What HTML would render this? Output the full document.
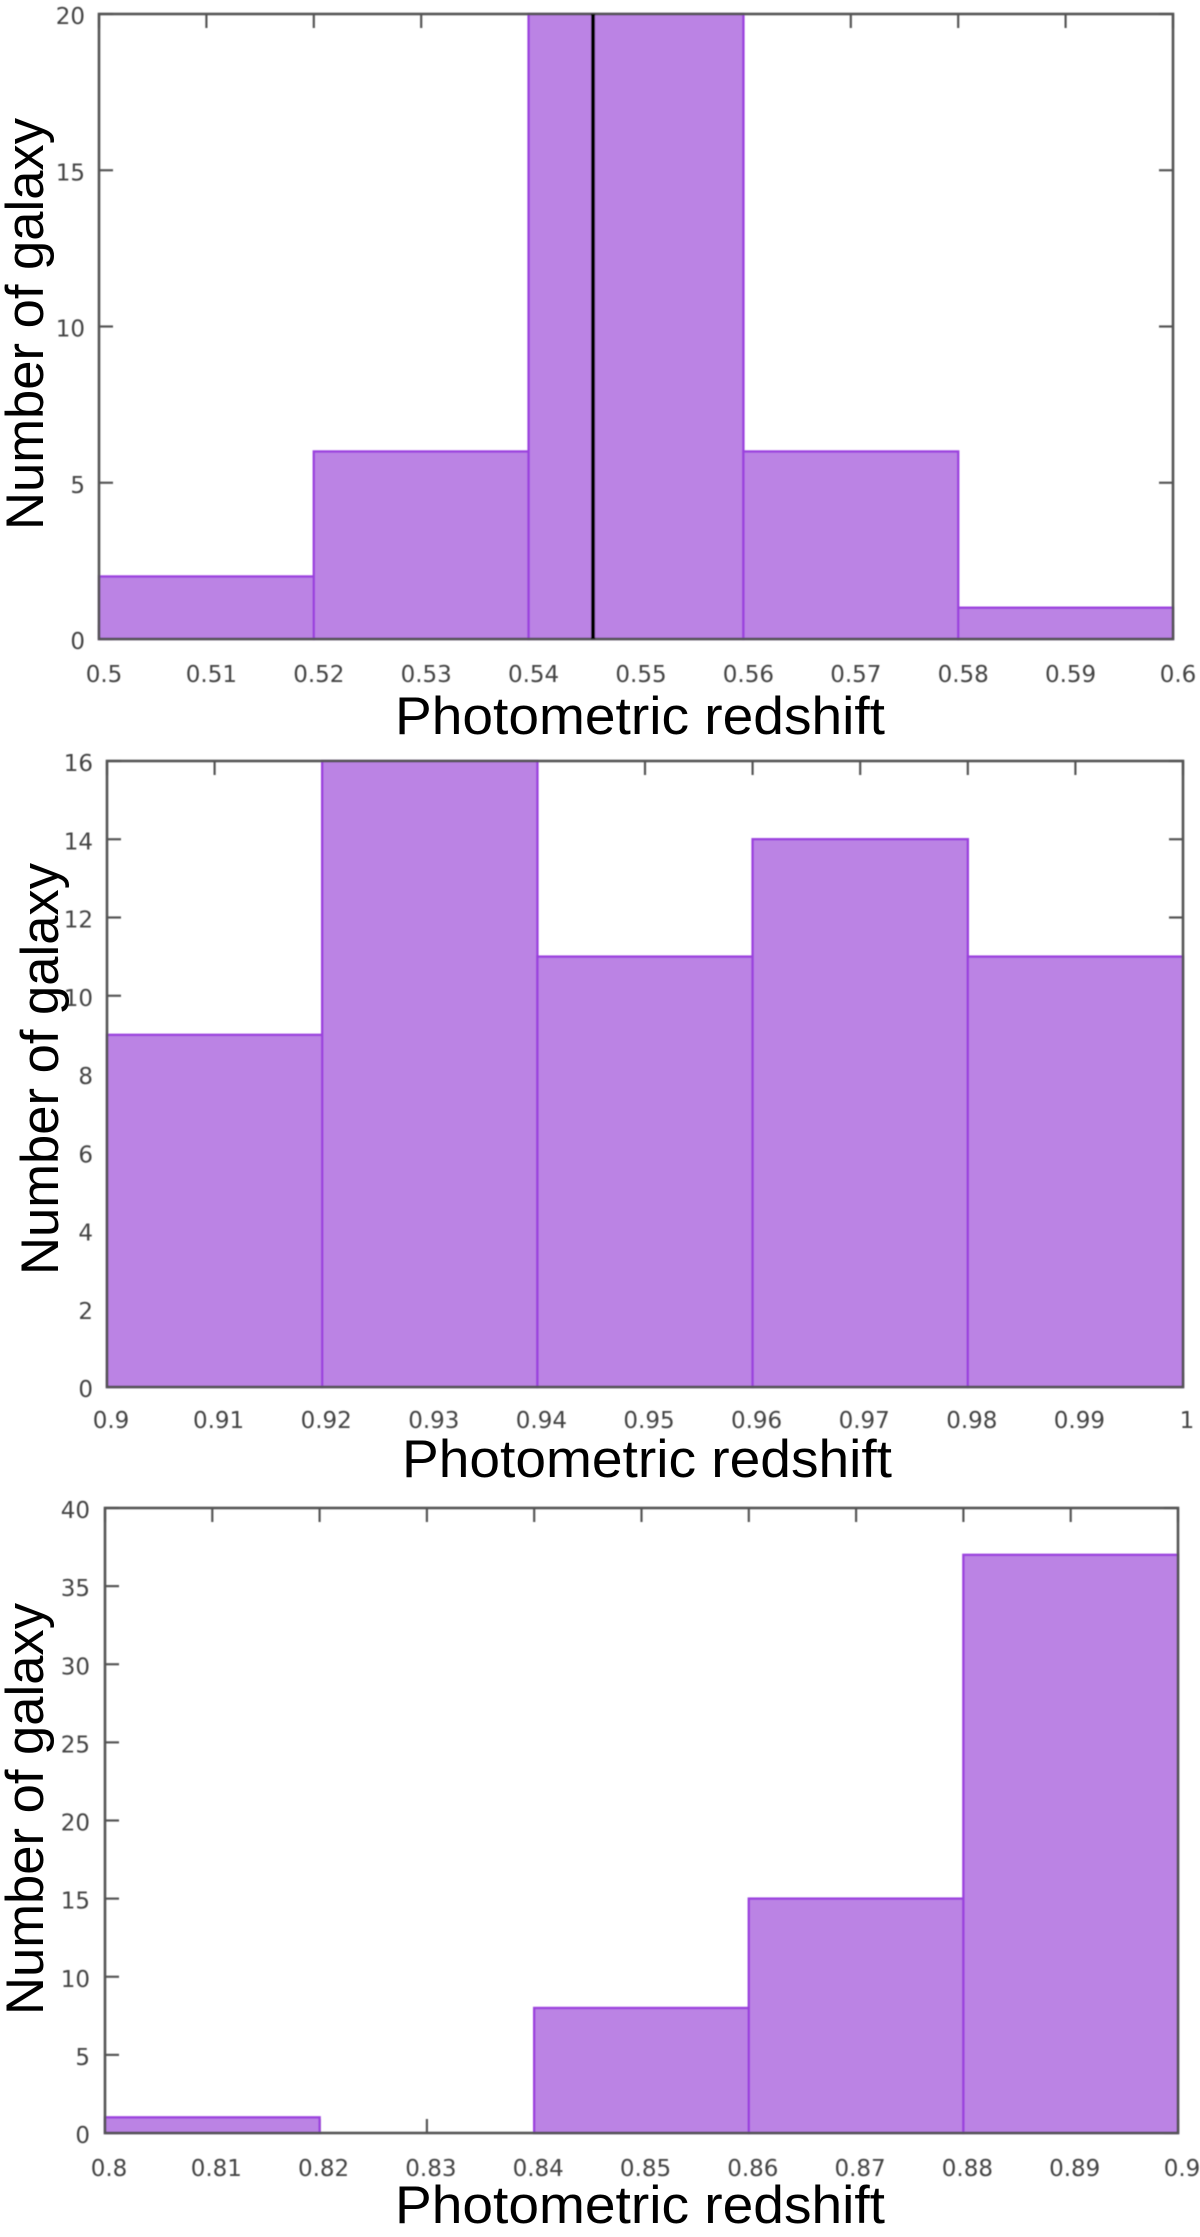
<!DOCTYPE html>
<html lang="en">
<head>
<meta charset="utf-8">
<title>Photometric redshift histograms</title>
<style>
html,body{margin:0;padding:0;background:#fff;}
svg{display:block;}
.tick-label{font-family:"DejaVu Sans","Liberation Sans",sans-serif;font-size:23px;fill:#444;}
.axis-title{font-family:"Liberation Sans",sans-serif;font-size:53px;fill:#000;}
</style>
</head>
<body>
<svg id="figure" xmlns="http://www.w3.org/2000/svg" width="1200" height="2237" viewBox="0 0 1200 2237">
  <defs>
    <filter id="soft" x="-5%" y="-5%" width="110%" height="110%"><feGaussianBlur stdDeviation="0.55"/></filter>
    <filter id="softer" x="-5%" y="-5%" width="110%" height="110%"><feGaussianBlur stdDeviation="0.35"/></filter>
  </defs>
  <rect width="1200" height="2237" fill="#fff"/>

  <g id="panel-1"></g>
  <text class="axis-title" x="395" y="734" textLength="490" lengthAdjust="spacingAndGlyphs" filter="url(#softer)">Photometric redshift</text>
  <text class="axis-title" transform="translate(43,530) rotate(-90)" textLength="412" lengthAdjust="spacingAndGlyphs" filter="url(#softer)">Number of galaxy</text>

  <g id="panel-2"></g>
  <text class="axis-title" x="402" y="1477" textLength="490" lengthAdjust="spacingAndGlyphs" filter="url(#softer)">Photometric redshift</text>
  <text class="axis-title" transform="translate(58,1275) rotate(-90)" textLength="412" lengthAdjust="spacingAndGlyphs" filter="url(#softer)">Number of galaxy</text>

  <g id="panel-3"></g>
  <text class="axis-title" x="395" y="2223" textLength="490" lengthAdjust="spacingAndGlyphs" filter="url(#softer)">Photometric redshift</text>
  <text class="axis-title" transform="translate(43,2015) rotate(-90)" textLength="412" lengthAdjust="spacingAndGlyphs" filter="url(#softer)">Number of galaxy</text>
</svg>

<script>
// Panel 1 data
const binStarts1 = [0.50, 0.52, 0.54, 0.56, 0.58];
const counts1 = [2, 6, 20, 6, 1];
const xTicks1 = ['0.5', '0.51', '0.52', '0.53', '0.54', '0.55', '0.56', '0.57', '0.58', '0.59', '0.6'];
const yTicks1 = ['0', '5', '10', '15', '20'];
const markerValues1 = [0.546];

// Panel 2 data
const binStarts2 = [0.90, 0.92, 0.94, 0.96, 0.98];
const counts2 = [9, 16, 11, 14, 11];
const xTicks2 = ['0.9', '0.91', '0.92', '0.93', '0.94', '0.95', '0.96', '0.97', '0.98', '0.99', '1'];
const yTicks2 = ['0', '2', '4', '6', '8', '10', '12', '14', '16'];
const markerValues2 = [];

// Panel 3 data
const binStarts3 = [0.80, 0.82, 0.84, 0.86, 0.88];
const counts3 = [1, 0, 8, 15, 37];
const xTicks3 = ['0.8', '0.81', '0.82', '0.83', '0.84', '0.85', '0.86', '0.87', '0.88', '0.89', '0.9'];
const yTicks3 = ['0', '5', '10', '15', '20', '25', '30', '35', '40'];
const markerValues3 = [];

const binWidth = 0.02;
const SVG_NS = 'http://www.w3.org/2000/svg';

function makeSvg(tag, attrs, parent) {
  const el = document.createElementNS(SVG_NS, tag);
  for (const key in attrs) el.setAttribute(key, attrs[key]);
  parent.appendChild(el);
  return el;
}

function drawPanel(cfg) {
  const root = document.getElementById(cfg.id);
  const xMin = parseFloat(cfg.xTicks[0]);
  const xMax = parseFloat(cfg.xTicks[cfg.xTicks.length - 1]);
  const yMin = parseFloat(cfg.yTicks[0]);
  const yMax = parseFloat(cfg.yTicks[cfg.yTicks.length - 1]);
  const xScale = v => cfg.left + (v - xMin) / (xMax - xMin) * (cfg.right - cfg.left);
  const yScale = v => cfg.bottom - (v - yMin) / (yMax - yMin) * (cfg.bottom - cfg.top);
  const tickLen = 14;
  const axisColor = '#555';

  const soft = makeSvg('g', { filter: 'url(#soft)' }, root);
  
  

  // tick marks sit under the bars
  cfg.xTicks.forEach(label => {
    const x = xScale(parseFloat(label));
    const bottomTick = makeSvg('line', { x1: x, x2: x, y1: cfg.bottom, y2: cfg.bottom - tickLen, stroke: axisColor, 'stroke-width': 2.2 }, soft);
    
    
    const topTick = makeSvg('line', { x1: x, x2: x, y1: cfg.top, y2: cfg.top + tickLen, stroke: axisColor, 'stroke-width': 2.2 }, soft);
    
    
    const text = makeSvg('text', { x: x + cfg.xLabelShift, y: cfg.xLabelY, 'text-anchor': 'middle', class: 'tick-label' }, soft);
    text.textContent = label;
    
    
  });

  cfg.yTicks.forEach(label => {
    const y = yScale(parseFloat(label));
    const leftTick = makeSvg('line', { x1: cfg.left, x2: cfg.left + tickLen, y1: y, y2: y, stroke: axisColor, 'stroke-width': 2.2 }, soft);
    
    
    const rightTick = makeSvg('line', { x1: cfg.right, x2: cfg.right - tickLen, y1: y, y2: y, stroke: axisColor, 'stroke-width': 2.2 }, soft);
    
    
    const text = makeSvg('text', { x: cfg.yLabelX, y: y + 10, 'text-anchor': 'end', class: 'tick-label' }, soft);
    text.textContent = label;
    
    
  });

  // histogram bars
  cfg.binStarts.forEach((start, i) => {
    const x0 = xScale(start);
    const x1 = xScale(start + binWidth);
    const y = yScale(cfg.counts[i]);
    const bar = makeSvg('rect', {
      x: x0, y: y, width: x1 - x0, height: cfg.bottom - y,
      fill: '#bb83e4', stroke: '#9b42de', 'stroke-width': 2.4
    }, soft);
    
    
  });

  // frame on top of the bars
  const frame = makeSvg('rect', {
    x: cfg.left, y: cfg.top, width: cfg.right - cfg.left, height: cfg.bottom - cfg.top,
    fill: 'none', stroke: axisColor, 'stroke-width': 2.6
  }, soft);
  
  

  // vertical reference line
  cfg.markers.forEach(value => {
    const x = xScale(value);
    const marker = makeSvg('line', { x1: x, x2: x, y1: cfg.top, y2: cfg.bottom, stroke: '#000', 'stroke-width': 4 }, soft);
    
    
  });
}

drawPanel({ id: 'panel-1', left: 99, right: 1173, top: 14, bottom: 639, xLabelShift: 5, xLabelY: 682, yLabelX: 85,
  binStarts: binStarts1, counts: counts1, xTicks: xTicks1, yTicks: yTicks1, markers: markerValues1 });
drawPanel({ id: 'panel-2', left: 107, right: 1183, top: 761, bottom: 1387, xLabelShift: 4, xLabelY: 1428, yLabelX: 93,
  binStarts: binStarts2, counts: counts2, xTicks: xTicks2, yTicks: yTicks2, markers: markerValues2 });
drawPanel({ id: 'panel-3', left: 105, right: 1178, top: 1508, bottom: 2133, xLabelShift: 4, xLabelY: 2176, yLabelX: 90,
  binStarts: binStarts3, counts: counts3, xTicks: xTicks3, yTicks: yTicks3, markers: markerValues3 });
</script>
</body>
</html>
